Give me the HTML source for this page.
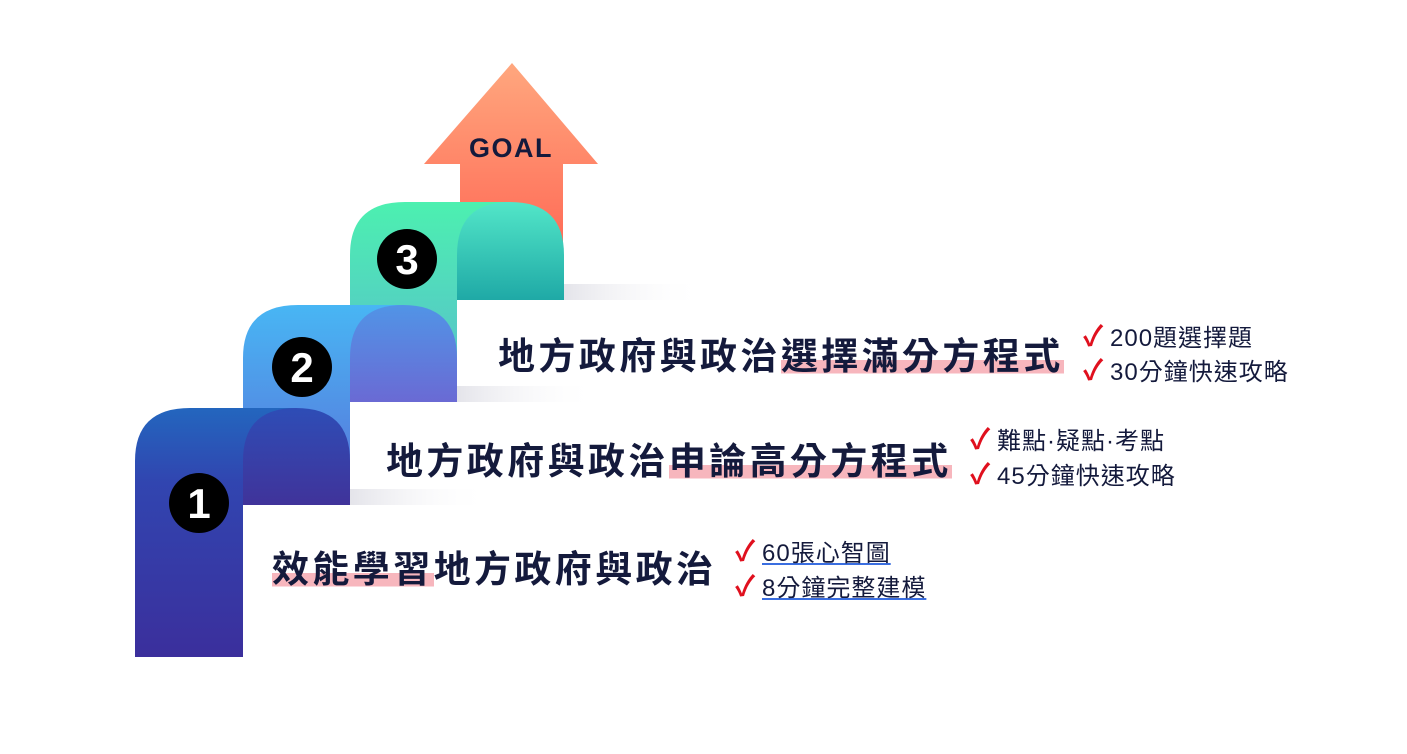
<!DOCTYPE html>
<html><head><meta charset="utf-8"><style>
body{margin:0;width:1407px;height:754px;background:#fff;overflow:hidden;position:relative;font-family:"Liberation Sans","Noto Sans CJK TC",sans-serif}
.t{position:absolute;font-weight:bold;font-size:37px;color:#141a3c;white-space:nowrap;line-height:40px;letter-spacing:3.4px}
.hl{background:linear-gradient(transparent 58%,#f7b6bd 58%,#f7b6bd 92%,transparent 92%)}
.c{position:absolute;font-size:24px;color:#141a3c;white-space:nowrap;line-height:30px;letter-spacing:1px}
.c i{font-style:normal;color:#e0101e;font-weight:bold;font-size:28px;margin-right:3px;display:inline-block;width:24px}
.u{text-decoration:underline;text-decoration-color:#3a6ee0}
</style></head><body>
<svg width="1407" height="754" style="position:absolute;left:0;top:0">
<defs>
<linearGradient id="ar" x1="0" y1="0" x2="0" y2="1"><stop offset="0" stop-color="#ffa77e"/><stop offset="1" stop-color="#ff6a56"/></linearGradient>
<linearGradient id="g3" x1="0" y1="0" x2="0" y2="1"><stop offset="0" stop-color="#4cf0b0"/><stop offset="1" stop-color="#5ab9cf"/></linearGradient>
<linearGradient id="g3b" x1="0" y1="0" x2="0" y2="1"><stop offset="0" stop-color="#52e6c8"/><stop offset="1" stop-color="#1fa9a6"/></linearGradient>
<linearGradient id="g2" x1="0" y1="0" x2="0" y2="1"><stop offset="0" stop-color="#48b6f4"/><stop offset="1" stop-color="#5a6fd8"/></linearGradient>
<linearGradient id="g2b" x1="0" y1="0" x2="0" y2="1"><stop offset="0" stop-color="#5194e6"/><stop offset="1" stop-color="#6a6ad4"/></linearGradient>
<linearGradient id="g1" x1="0" y1="0" x2="0" y2="1"><stop offset="0" stop-color="#2366be"/><stop offset="0.3" stop-color="#3145b0"/><stop offset="1" stop-color="#3b2f9c"/></linearGradient>
<linearGradient id="g1b" x1="0" y1="0" x2="0" y2="1"><stop offset="0" stop-color="#2e4db6"/><stop offset="1" stop-color="#40339a"/></linearGradient>
<linearGradient id="sh" x1="0" y1="0" x2="1" y2="0"><stop offset="0" stop-color="#e4e4ea"/><stop offset="1" stop-color="#fff" stop-opacity="0"/></linearGradient>
</defs>
<rect x="564" y="284" width="140" height="16" fill="url(#sh)"/>
<rect x="457" y="386" width="140" height="16" fill="url(#sh)"/>
<rect x="350" y="489" width="140" height="16" fill="url(#sh)"/>
<path d="M512 63 L598 164 L563 164 L563 250 L460 250 L460 164 L424 164 Z" fill="url(#ar)"/>
<text x="511" y="157" text-anchor="middle" font-family="Liberation Sans,sans-serif" font-weight="bold" font-size="27" fill="#141a3c" letter-spacing="1.5">GOAL</text>
<path d="M350 402 L350 255 Q350 202 405 202 L510 202 L510 300 L457 300 L457 402 Z" fill="url(#g3)"/>
<path d="M457 300 L457 255 Q457 202 510 202 Q564 202 564 255 L564 300 Z" fill="url(#g3b)"/>
<path d="M243 505 L243 358 Q243 305 298 305 L403 305 L403 402 L350 402 L350 505 Z" fill="url(#g2)"/>
<path d="M350 402 L350 358 Q350 305 403 305 Q457 305 457 358 L457 402 Z" fill="url(#g2b)"/>
<path d="M135 657 L135 461 Q135 408 190 408 L296 408 L296 505 L243 505 L243 657 Z" fill="url(#g1)"/>
<path d="M243 505 L243 461 Q243 408 296 408 Q350 408 350 461 L350 505 Z" fill="url(#g1b)"/>
<circle cx="407" cy="259" r="30" fill="#000"/><text x="407" y="274" text-anchor="middle" font-family="Liberation Sans,sans-serif" font-weight="bold" font-size="42" fill="#fff">3</text>
<circle cx="302" cy="367" r="30" fill="#000"/><text x="302" y="382" text-anchor="middle" font-family="Liberation Sans,sans-serif" font-weight="bold" font-size="42" fill="#fff">2</text>
<circle cx="199" cy="503" r="30" fill="#000"/><text x="199" y="518" text-anchor="middle" font-family="Liberation Sans,sans-serif" font-weight="bold" font-size="42" fill="#fff">1</text>
</svg>
<div class="t" style="left:498px;top:337px">地方政府與政治<span class="hl">選擇滿分方程式</span></div>
<div class="t" style="left:386px;top:442px">地方政府與政治<span class="hl">申論高分方程式</span></div>
<div class="t" style="left:272px;top:550px"><span class="hl">效能學習</span>地方政府與政治</div>
<div class="c" style="left:1083px;top:322px"><i>✓</i>200題選擇題</div>
<div class="c" style="left:1083px;top:356px"><i>✓</i>30分鐘快速攻略</div>
<div class="c" style="left:970px;top:425px"><i>✓</i>難點·疑點·考點</div>
<div class="c" style="left:970px;top:460px"><i>✓</i>45分鐘快速攻略</div>
<div class="c" style="left:735px;top:537px"><i>✓</i><span class="u">60張心智圖</span></div>
<div class="c" style="left:735px;top:572px"><i>✓</i><span class="u">8分鐘完整建模</span></div>
</body></html>
